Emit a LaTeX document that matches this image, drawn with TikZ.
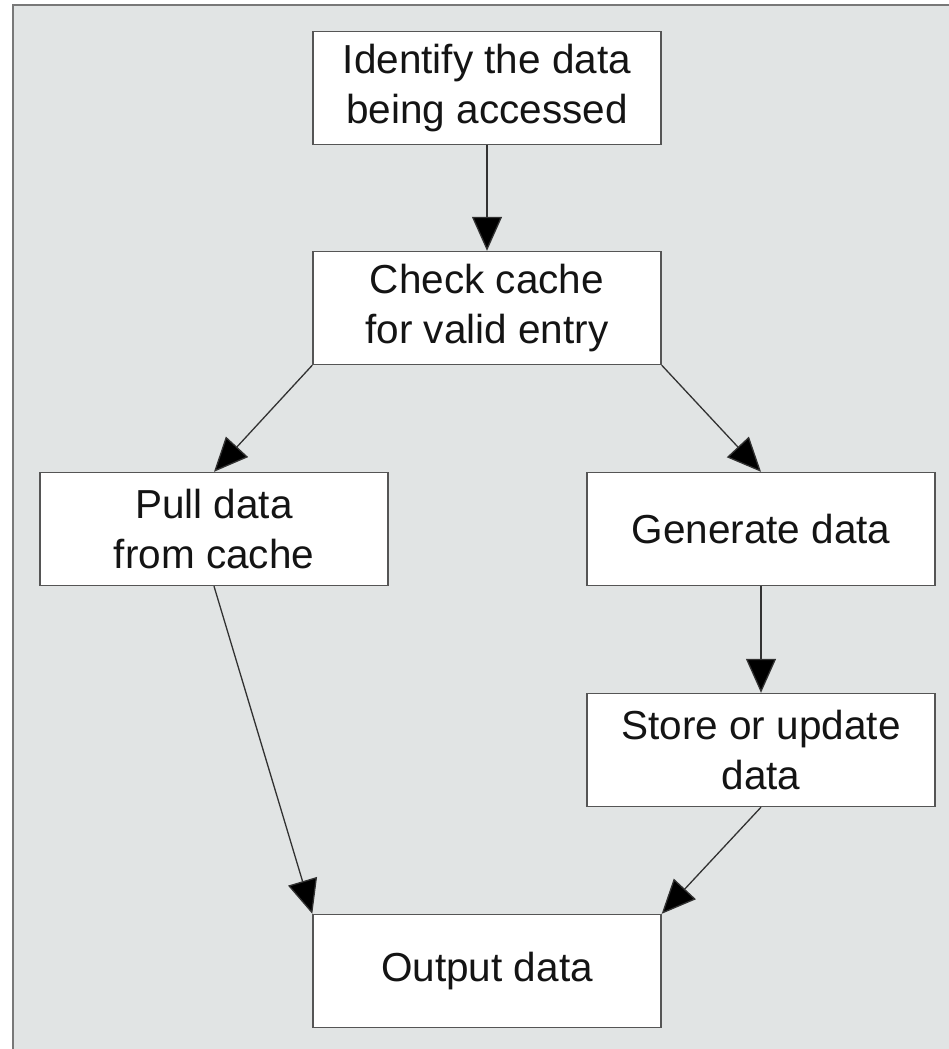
\documentclass[tikz,border=0pt]{standalone}
\usepackage{fontspec}
\setmainfont{Liberation Sans}
\usetikzlibrary{arrows.meta}
\definecolor{panelbg}{RGB}{225,228,228}
\definecolor{panelline}{RGB}{120,120,120}
\definecolor{boxline}{RGB}{85,85,85}
\definecolor{conn}{RGB}{50,50,50}
\definecolor{txt}{RGB}{20,20,20}
\begin{document}
\begin{tikzpicture}[x=1pt,y=-1pt,
  stepbox/.style={draw=boxline, line width=1.4pt, fill=white, text=txt,
    minimum width=348pt, minimum height=113pt, inner sep=0pt, align=center,
    font=\fontsize{40.5}{50}\selectfont},
  conn/.style={draw=conn, line width=1.3pt,
    -{Triangle[length=34pt,width=30pt,fill=black]}, shorten >=0pt}]
\useasboundingbox (0,0) rectangle (949,1049);
\fill[white] (0,0) rectangle (949,1049);
\fill[panelbg] (13,5) rectangle (949,1049);
\draw[panelline, line width=1.5pt] (13,1049) -- (13,5) -- (949,5);
\node[stepbox] (ident) at (487,88) {Identify the data\\being accessed};
\node[stepbox] (check) at (487,308) {Check cache\\for valid entry};
\node[stepbox] (pull) at (214,529) {Pull data\\from cache};
\node[stepbox] (gen) at (761,529) {Generate data};
\node[stepbox] (store) at (761,750) {Store or update\\data};
\node[stepbox] (out) at (487,971) {Output data};
\draw[conn] (ident.south) -- (check.north);
\draw[conn] (check.south west) -- (pull.north);
\draw[conn] (check.south east) -- (gen.north);
\draw[conn] (gen.south) -- (store.north);
\draw[conn] (pull.south) -- (out.north west);
\draw[conn] (store.south) -- (out.north east);
\end{tikzpicture}
\end{document}
